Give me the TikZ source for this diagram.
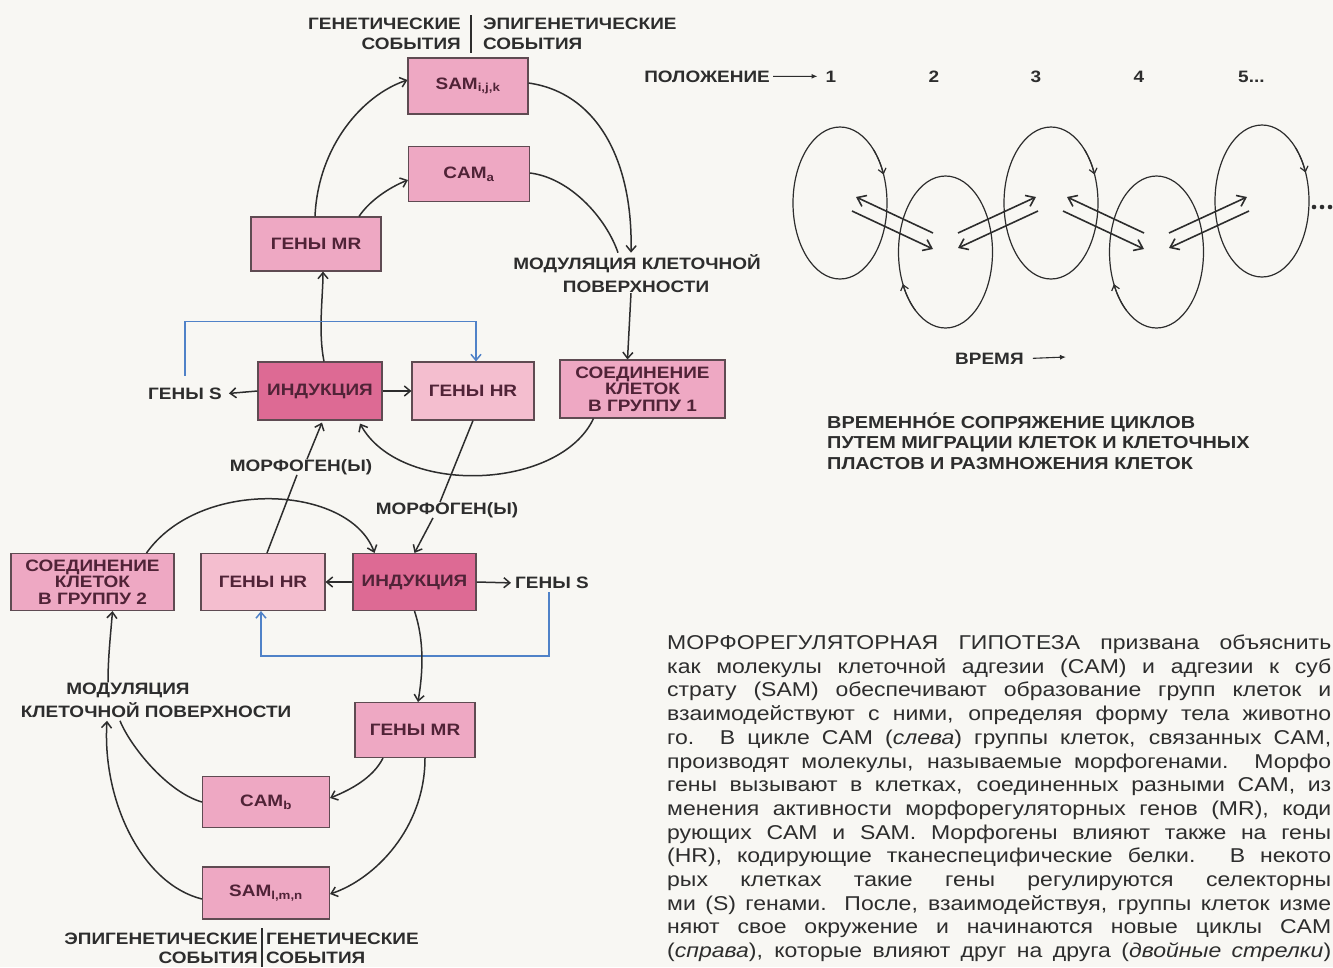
\documentclass[tikz,border=0pt]{standalone}
\usepackage{fontspec}
\usepackage{graphicx}
\setmainfont{Liberation Sans}[FakeStretch=1.15]
\usetikzlibrary{arrows.meta,shapes.geometric}
\definecolor{bg}{RGB}{248,247,243}
\definecolor{pinkA}{RGB}{238,168,195}
\definecolor{pinkHR}{RGB}{244,190,207}
\definecolor{pinkInd}{RGB}{221,106,148}
\definecolor{edge}{RGB}{95,75,82}
\definecolor{ink}{RGB}{45,45,45}
\definecolor{boxink}{RGB}{80,35,55}
\definecolor{blueline}{RGB}{80,130,200}
\tikzset{
 box/.style={draw=edge,line width=1.1pt,fill=pinkA,inner sep=0pt,align=center,text=boxink,font=\fontsize{16.5}{16.5}\selectfont\bfseries},
 indbox/.style={box,fill=pinkInd},
 hrbox/.style={box,fill=pinkHR},
 lbl/.style={text=ink,font=\fontsize{16.5}{19}\selectfont\bfseries,inner sep=0pt},
 caplbl/.style={text=ink,font=\fontsize{17.3}{19}\selectfont\bfseries,inner sep=0pt,anchor=base west},
 conn/.style={draw=ink,line width=1.5pt},
 arr/.style={conn,-{Straight Barb[length=6pt,width=10pt]}},
 bluearr/.style={draw=blueline,line width=1.5pt,-{Straight Barb[length=6pt,width=10pt]}},
 thinarr/.style={draw=ink,line width=1.1pt,-{Latex[length=6pt,width=5pt]}},
 ell/.style={draw=ink,line width=1.2pt},
 ellarr/.style={draw=ink,line width=1.2pt,-{Straight Barb[length=5pt,width=8pt]}},
 dblarr/.style={draw=ink,line width=1.6pt,-{Straight Barb[length=8pt,width=12pt]}},
 para/.style={text=ink,font=\fontsize{20}{22}\selectfont,inner sep=0pt,anchor=base west},
}
\newsavebox\plbox
\newcommand{\pline}[1]{\sbox\plbox{#1}\ifdim\wd\plbox>664pt\relax\resizebox{664pt}{\height}{\usebox\plbox}\else\makebox[664pt][s]{#1}\fi}
\begin{document}
\begin{tikzpicture}[x=1pt,y=-1pt]
\fill[bg] (0,0) rectangle (1333,967);
\useasboundingbox (0,0) rectangle (1333,967);

% ---------- top header
\node[lbl,anchor=base east] (tG1) at (461,29.5) {ГЕНЕТИЧЕСКИЕ};
\node[lbl,anchor=base east] (tG2) at (461,49.5) {СОБЫТИЯ};
\node[lbl,anchor=base west] (tE1) at (483,29.5) {ЭПИГЕНЕТИЧЕСКИЕ};
\node[lbl,anchor=base west] (tE2) at (483,49.5) {СОБЫТИЯ};
\coordinate (tdA) at (471,15); \coordinate (tdB) at (471,53);
\draw[draw=ink,line width=1.2pt] (tdA) -- (tdB);

% ---------- upper cycle boxes
\node[box,minimum width=120pt,minimum height=56pt] (sam1) at (468,86) {SAM\textsubscript{i,j,k}};
\node[box,minimum width=121pt,minimum height=55pt] (cama) at (469,174) {CAM\textsubscript{a}};
\node[box,minimum width=130pt,minimum height=54pt] (mr1) at (316,244) {ГЕНЫ MR};
\node[indbox,minimum width=124pt,minimum height=58pt] (ind1) at (320,391) {ИНДУКЦИЯ};
\node[hrbox,minimum width=122pt,minimum height=58pt] (hr1) at (473,391) {ГЕНЫ HR};
\node[box,minimum width=165pt,minimum height=58pt] (con1) at (642.5,389) {СОЕДИНЕНИЕ\\КЛЕТОК\\В ГРУППУ 1};

\node[lbl] (mod1a) at (637,264) {МОДУЛЯЦИЯ КЛЕТОЧНОЙ};
\node[lbl] (mod1b) at (636,287) {ПОВЕРХНОСТИ};
\node[lbl] (gs1) at (185,394) {ГЕНЫ S};
\node[lbl] (morf1) at (301,467) {МОРФОГЕН(Ы)};
\node[lbl] (morf2) at (447,510) {МОРФОГЕН(Ы)};

% ---------- lower cycle boxes
\node[box,minimum width=163pt,minimum height=57pt] (con2) at (92.5,582) {СОЕДИНЕНИЕ\\КЛЕТОК\\В ГРУППУ 2};
\node[hrbox,minimum width=124pt,minimum height=57pt] (hr2) at (263,582) {ГЕНЫ HR};
\node[indbox,minimum width=123pt,minimum height=57pt] (ind2) at (414.5,582) {ИНДУКЦИЯ};
\node[lbl] (gs2) at (552,583) {ГЕНЫ S};
\node[box,minimum width=120pt,minimum height=55pt] (mr2) at (415,730) {ГЕНЫ MR};
\node[box,minimum width=127pt,minimum height=51pt] (camb) at (266,802) {CAM\textsubscript{b}};
\node[box,minimum width=127pt,minimum height=52pt] (saml) at (266,893) {SAM\textsubscript{l,m,n}};
\node[lbl] (mod2a) at (128,690) {МОДУЛЯЦИЯ};
\node[lbl] (mod2b) at (156,710) {КЛЕТОЧНОЙ ПОВЕРХНОСТИ};

% ---------- bottom header
\node[lbl,anchor=base east] (bE1) at (258,944.5) {ЭПИГЕНЕТИЧЕСКИЕ};
\node[lbl,anchor=base east] (bE2) at (258,963.5) {СОБЫТИЯ};
\node[lbl,anchor=base west] (bG1) at (266,944.5) {ГЕНЕТИЧЕСКИЕ};
\node[lbl,anchor=base west] (bG2) at (266,963.5) {СОБЫТИЯ};
\coordinate (bdA) at (262,928); \coordinate (bdB) at (262,967);
\draw[draw=ink,line width=1.2pt] (bdA) -- (bdB);

% ---------- upper connectors
\draw[arr] ([xshift=-1pt]mr1.north) .. controls +(3,-70) and +(-45,15) .. ([yshift=6pt]sam1.west);
\draw[arr] ([xshift=43pt]mr1.north) .. controls +(10,-15) and +(-20,8) .. ([yshift=-6pt]cama.west);
\draw[arr] ([yshift=3pt]sam1.east) .. controls +(70,10) and +(2,-90) .. ([xshift=-6pt,yshift=2pt]mod1a.north);
\draw[conn] ([yshift=1pt]cama.east) .. controls +(40,5) and +(-12,-35) .. ([xshift=-19pt,yshift=2pt]mod1a.north);
\draw[arr] ([xshift=-5pt]mod1b.south) -- ([xshift=-15pt]con1.north);
\draw[arr] ([xshift=4pt]ind1.north) .. controls +(-6,-30) and +(0,25) .. ([xshift=7pt]mr1.south);
\draw[arr,shorten >=7pt] (ind1.west) -- (gs1.east);
\draw[arr] (ind1.east) -- (hr1.west);
\draw[bluearr] ([yshift=12pt]gs1.north) |- ([xshift=3pt,yshift=40pt]hr1.north) -- ([xshift=3pt]hr1.north);
\draw[arr] ([xshift=-49pt]con1.south) .. controls +(-34,72) and +(40,73) .. ([xshift=40pt,yshift=-3pt]ind1.south);
\draw[arr] ([xshift=6pt]morf1.north) -- ([xshift=2pt,yshift=-2pt]ind1.south);
\draw[conn] ([xshift=4pt]hr2.north) -- ([xshift=-4pt]morf1.south);
\draw[conn] (hr1.south) -- ([xshift=-7pt]morf2.north);
\draw[arr] ([xshift=-14pt]morf2.south) -- (ind2.north);

% ---------- lower connectors
\draw[arr] ([xshift=54pt]con2.north) .. controls +(54,-76) and +(-25,-68) .. ([xshift=-40pt]ind2.north);
\draw[arr] (ind2.west) -- (hr2.east);
\draw[arr,shorten >=4pt] (ind2.east) -- (gs2.west);
\draw[bluearr] ([xshift=-3pt,yshift=-3pt]gs2.south) |- ([xshift=-2pt,yshift=-45pt]hr2.south) -- ([xshift=-2pt]hr2.south);
\draw[arr] (ind2.south) .. controls +(10,30) and +(5,-30) .. ([xshift=3pt]mr2.north);
\draw[arr] ([xshift=-32pt]mr2.south) .. controls +(-10,20) and +(20,-8) .. ([yshift=4pt]camb.east);
\draw[arr] ([xshift=10pt]mr2.south) .. controls +(0,70) and +(45,-15) .. ([yshift=-1pt]saml.east);
\draw[conn] (camb.west) .. controls +(-35,-10) and +(10,25) .. ([xshift=-36pt,yshift=-3pt]mod2b.south);
\draw[arr] ([yshift=-6pt]saml.west) .. controls +(-60,-15) and +(-5,80) .. ([xshift=-49pt,yshift=-3pt]mod2b.south);
\draw[arr] ([xshift=-20pt]mod2a.north) .. controls +(0,-25) and +(-2,25) .. ([xshift=20pt]con2.south);

% ---------- right: positions
\node[lbl,anchor=base east] (pos) at (770,82) {ПОЛОЖЕНИЕ};
\node[lbl,anchor=base] (p1) at (831,82) {1};
\node[lbl,anchor=base] (p2) at (934,82) {2};
\node[lbl,anchor=base] (p3) at (1036,82) {3};
\node[lbl,anchor=base] (p4) at (1139,82) {4};
\node[lbl,anchor=base west] (p5) at (1238,82) {5...};
\draw[thinarr] ([xshift=3pt]pos.east) -- ([xshift=-8pt]p1.west);

% ---------- ellipses (cycles)
\coordinate (e1) at (840,203);
\coordinate (e2) at (945.5,252);
\coordinate (e3) at (1051,203);
\coordinate (e4) at (1156.5,252);
\coordinate (e5) at (1262,201);
\foreach \e in {e1,e2,e3,e4,e5}{\draw[ell] (\e) ellipse[x radius=47,y radius=76];}
\foreach \e in {e1,e3,e5}{\draw[ellarr] ([shift={(-45:47 and 76)}]\e) arc[start angle=-45,end angle=-22,x radius=47,y radius=76];}
\foreach \e in {e2,e4}{\draw[ellarr] ([shift={(130:47 and 76)}]\e) arc[start angle=130,end angle=155,x radius=47,y radius=76];}

% double arrows
\coordinate (a12ua) at (933,233); \coordinate (a12ub) at (856,197);
\coordinate (a12la) at (852,211); \coordinate (a12lb) at (933,249);
\coordinate (a23ua) at (958,233); \coordinate (a23ub) at (1036,197);
\coordinate (a23la) at (1038,211); \coordinate (a23lb) at (958,248);
\coordinate (a34ua) at (1144,233); \coordinate (a34ub) at (1067,197);
\coordinate (a34la) at (1063,211); \coordinate (a34lb) at (1144,249);
\coordinate (a45ua) at (1169,233); \coordinate (a45ub) at (1247,197);
\coordinate (a45la) at (1249,211); \coordinate (a45lb) at (1169,248);
\foreach \p in {12,23,34,45}{
  \draw[dblarr] (a\p ua) -- (a\p ub);
  \draw[dblarr] (a\p la) -- (a\p lb);
}
\coordinate (dt1) at (1314,207); \coordinate (dt2) at (1322,207); \coordinate (dt3) at (1330,207);
\foreach \d in {dt1,dt2,dt3}{\fill[ink] (\d) circle[radius=2.3];}

\node[lbl,anchor=base west] (vr) at (955,364) {ВРЕМЯ};
\coordinate (vrEnd) at (1066,357);
\draw[thinarr] ([xshift=9pt]vr.east) -- (vrEnd);

\node[caplbl] (cap1) at (827,428) {ВРЕМЕННО́Е СОПРЯЖЕНИЕ ЦИКЛОВ};
\node[caplbl] (cap2) at (827,448.5) {ПУТЕМ МИГРАЦИИ КЛЕТОК И КЛЕТОЧНЫХ};
\node[caplbl] (cap3) at (827,469) {ПЛАСТОВ И РАЗМНОЖЕНИЯ КЛЕТОК};

% ---------- paragraph
\node[para] (t01) at (667,649.5) {\pline{МОРФОРЕГУЛЯТОРНАЯ ГИПОТЕЗА призвана объяснить}};
\node[para] (t02) at (667,673.2) {\pline{как молекулы клеточной адгезии (CAM) и адгезии к суб}};
\node[para] (t03) at (667,696.9) {\pline{страту (SAM) обеспечивают образование групп клеток и}};
\node[para] (t04) at (667,720.6) {\pline{взаимодействуют с ними, определяя форму тела животно}};
\node[para] (t05) at (667,744.3) {\pline{го. В цикле CAM (\textit{слева}) группы клеток, связанных CAM,}};
\node[para] (t06) at (667,768.0) {\pline{производят молекулы, называемые морфогенами. Морфо}};
\node[para] (t07) at (667,791.7) {\pline{гены вызывают в клетках, соединенных разными CAM, из}};
\node[para] (t08) at (667,815.4) {\pline{менения активности морфорегуляторных генов (MR), коди}};
\node[para] (t09) at (667,839.1) {\pline{рующих CAM и SAM. Морфогены влияют также на гены}};
\node[para] (t10) at (667,862.8) {\pline{(HR), кодирующие тканеспецифические белки. В некото}};
\node[para] (t11) at (667,886.5) {\pline{рых клетках такие гены регулируются селекторны}};
\node[para] (t12) at (667,910.2) {\pline{ми (S) генами. После, взаимодействуя, группы клеток изме}};
\node[para] (t13) at (667,933.9) {\pline{няют свое окружение и начинаются новые циклы CAM}};
\node[para] (t14) at (667,957.6) {\pline{(\textit{справа}), которые влияют друг на друга (\textit{двойные стрелки})}};
\end{tikzpicture}
\end{document}
